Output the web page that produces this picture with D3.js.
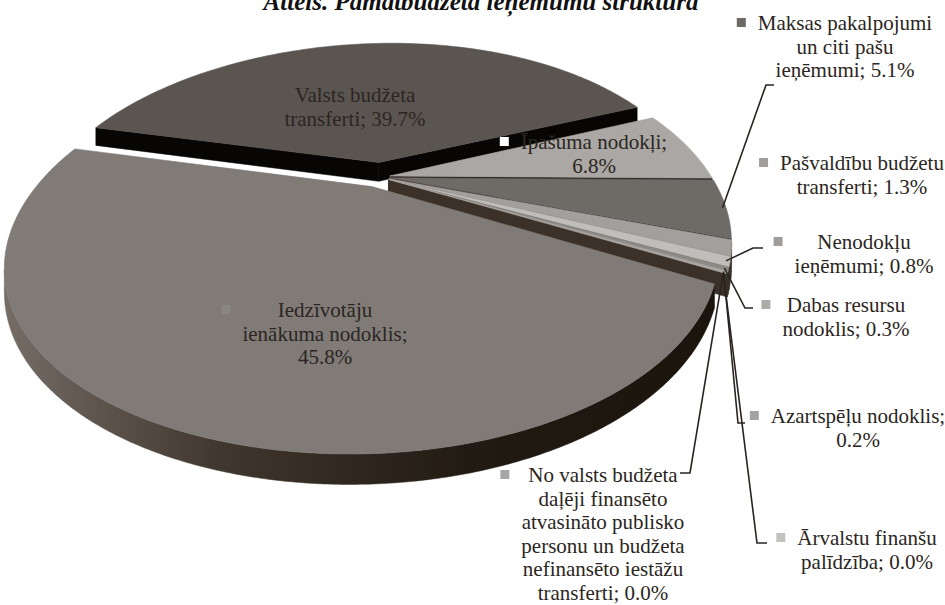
<!DOCTYPE html>
<html>
<head>
<meta charset="utf-8">
<script src="https://cdn.jsdelivr.net/npm/d3@7"></script>
<style>
  body { margin: 0; background: #fff; }
  svg { display: block; }
  .lbl { font-family: "Liberation Serif", "Times New Roman", serif; font-size: 21px; fill: #2b2622; }
  .title { font-family: "Liberation Serif", "Times New Roman", serif; font-size: 25px; font-weight: bold; font-style: italic; fill: #111; }
</style>
</head>
<body>
<div id="chart"></div>
<script>
// slices, clockwise from the upper-left edge of the top slice
const categories = [
  "Valsts budžeta transferti",
  "Īpašuma nodokļi",
  "Maksas pakalpojumi un citi pašu ieņēmumi",
  "Pašvaldību budžetu transferti",
  "Nenodokļu ieņēmumi",
  "Dabas resursu nodoklis",
  "Azartspēļu nodoklis",
  "Ārvalstu finanšu palīdzība",
  "No valsts budžeta daļēji finansēto atvasināto publisko personu un budžeta nefinansēto iestāžu transferti",
  "Iedzīvotāju ienākuma nodoklis"
];
const values = [39.7, 6.8, 5.1, 1.3, 0.8, 0.3, 0.2, 0.0, 0.0, 45.8];
// word index after which each label wraps
const breaks = [[2], [2], [2, 5], [2], [1], [2], [2], [2], [3, 5, 7, 10, 12], [1, 3]];
const title = "Attēls. Pamatbudžeta ieņēmumu struktūra";

// styles
const topColors = ["#5b5551", "#aaa7a4", "#6e6a66", "#a29f9c", "#c0bebb", "#8d8985", "#a9a6a3", "#c8c6c4", "#a3a09d", "#807b77"];
const wallColors = ["#070605", "#2c2520", "#2c2520", "#3b3128", "#3b3128", "#3b3128", "#3b3128", "#3b3128", "#3b3128", "url(#frontWall)"];
const keyColors = ["#5b5551", "#ffffff", "#6e6a66", "#a09d9a", "#a09d9a", "#aeaba8", "#a5a3a0", "#c4c2c0", "#a8a6a4", "#8a8682"];
const explode = [9, 3, 3, 3, 3, 3, 3, 3, 3, 6];

// label placement: centre x, first line centre y, leader elbow
const labelPos = [
  { x: 355, y: 95 },
  { x: 594, y: 142 },
  { x: 845, y: 23, elbow: [[766, 85], [774, 85]] },
  { x: 862, y: 163 },
  { x: 864, y: 242, elbow: [[753, 248], [763, 248]] },
  { x: 846, y: 305, elbow: [[745, 308], [753, 308]] },
  { x: 858, y: 416, elbow: [[738, 423], [745, 423]] },
  { x: 867, y: 538, elbow: [[757, 543], [767, 543]] },
  { x: 603, y: 475, elbow: [[690, 473], [680, 473]] },
  { x: 325, y: 310 }
];
const lineH = 23.5;

// 3d view: keystone perspective, a little shear and tilt
const view = { cx: 380, cy: 177, sx: 3.25, kx: 0.0036, sy: 1.68, ky: 0.0034, shear: 0.25, tilt: 0.05, depth: 19.5, r: 100, start: -78.4 };

function project(u, v, drop) {
  const wy = 1 + view.ky * v;
  return [
    view.cx + view.sx * u / (1 + view.kx * v) + view.shear * v,
    view.cy - view.sy * v / wy + view.tilt * u + drop * view.depth / wy
  ];
}

const svg = d3.select("#chart").append("svg")
  .attr("width", 945)
  .attr("height", 605);

const defs = svg.append("defs");
const grad = defs.append("linearGradient")
  .attr("id", "frontWall")
  .attr("gradientUnits", "userSpaceOnUse")
  .attr("x1", 0).attr("y1", 0).attr("x2", 730).attr("y2", 0);
grad.append("stop").attr("offset", "0%").attr("stop-color", "#766e67");
grad.append("stop").attr("offset", "30%").attr("stop-color", "#40372e");
grad.append("stop").attr("offset", "65%").attr("stop-color", "#211a12");
grad.append("stop").attr("offset", "100%").attr("stop-color", "#1a140d");

const a0 = view.start * Math.PI / 180;
const pie = d3.pie().sort(null).value(d => d).startAngle(a0).endAngle(a0 + 2 * Math.PI);
const slices = pie(values).map((a, i) => {
  const mid = (a.startAngle + a.endAngle) / 2;
  return {
    i: i,
    a0: a.startAngle,
    a1: a.endAngle,
    mid: mid,
    du: explode[i] * Math.sin(mid),
    dv: explode[i] * Math.cos(mid)
  };
});

function pt(s, ang, rho, drop) {
  return project(s.du + rho * Math.sin(ang), s.dv + rho * Math.cos(ang), drop);
}
function rimPts(s, from, to, drop) {
  const n = Math.max(1, Math.ceil(Math.abs(to - from) / (Math.PI / 180)));
  return d3.range(n + 1).map(k => pt(s, from + (to - from) * k / n, view.r, drop));
}
const poly = pts => "M" + pts.map(p => p[0].toFixed(2) + "," + p[1].toFixed(2)).join("L") + "Z";

// side walls
const walls = [];
slices.forEach(s => {
  if (s.a1 - s.a0 < 1e-6) return;
  const apexT = pt(s, 0, 0, 0), apexB = pt(s, 0, 0, 1);
  [[s.a0, 1], [s.a1, -1]].forEach(([ang, dir]) => {
    const rT = pt(s, ang, view.r, 0), rB = pt(s, ang, view.r, 1);
    const inner = pt(s, ang + dir * 0.01, view.r * 0.5, 0);
    const ex = rT[0] - apexT[0], ey = rT[1] - apexT[1];
    const cross = ex * (inner[1] - apexT[1]) - ey * (inner[0] - apexT[0]);
    if (Math.sign(cross) !== Math.sign(ex)) {
      walls.push({
        d: poly([apexT, rT, rB, apexB]),
        depth: s.dv + 0.5 * view.r * Math.cos(ang),
        fill: s.i === 9 ? "#2a221a" : wallColors[s.i]
      });
    }
  });
  // outer wall where the rim runs right to left on screen
  const n = Math.max(2, Math.ceil((s.a1 - s.a0) / (Math.PI / 360)));
  const angs = d3.range(n + 1).map(k => s.a0 + (s.a1 - s.a0) * k / n);
  let run = [];
  const flush = () => {
    if (run.length > 1) {
      const top = run.map(a => pt(s, a, view.r, 0));
      const bot = run.map(a => pt(s, a, view.r, 1)).reverse();
      const m = run[Math.floor(run.length / 2)];
      walls.push({ d: poly(top.concat(bot)), depth: s.dv + view.r * Math.cos(m), fill: wallColors[s.i] });
    }
    run = [];
  };
  angs.forEach(a => {
    const p1 = pt(s, a - 0.001, view.r, 0), p2 = pt(s, a + 0.001, view.r, 0);
    if (p2[0] - p1[0] < 0) run.push(a); else flush();
  });
  flush();
});

walls.sort((a, b) => b.depth - a.depth);
svg.append("g").attr("class", "walls")
  .selectAll("path")
  .data(walls)
  .join("path")
  .attr("d", d => d.d)
  .attr("fill", d => d.fill)
  .attr("stroke", d => d.fill)
  .attr("stroke-width", 0.5);

// top faces
svg.append("g").attr("class", "tops")
  .selectAll("path")
  .data(slices.filter(s => s.a1 - s.a0 > 1e-6))
  .join("path")
  .attr("d", s => poly([pt(s, 0, 0, 0)].concat(rimPts(s, s.a0, s.a1, 0))))
  .attr("fill", s => topColors[s.i])
  .attr("stroke", s => topColors[s.i])
  .attr("stroke-width", 0.6);

// leader lines
const leaders = svg.append("g").attr("class", "leaders");
slices.forEach(s => {
  const lp = labelPos[s.i];
  if (!lp.elbow) return;
  const start = pt(s, s.mid, view.r * 0.99, 0);
  leaders.append("path")
    .attr("d", d3.line()([start].concat(lp.elbow)))
    .attr("fill", "none")
    .attr("stroke", "#2a2420")
    .attr("stroke-width", 1.6);
});

// labels
const labels = svg.append("g").attr("class", "labels");
slices.forEach(s => {
  const lp = labelPos[s.i];
  const words = `${categories[s.i]}; ${values[s.i].toFixed(1)}%`.split(" ");
  const cuts = [0].concat(breaks[s.i], [words.length]);
  const lines = d3.range(cuts.length - 1).map(k => words.slice(cuts[k], cuts[k + 1]).join(" "));
  const g = labels.append("g");
  let left = Infinity;
  lines.forEach((t, k) => {
    const el = g.append("text")
      .attr("class", "lbl")
      .attr("x", lp.x)
      .attr("y", lp.y + k * lineH)
      .attr("dy", "0.35em")
      .attr("text-anchor", "middle")
      .text(t);
    left = Math.min(left, lp.x - el.node().getComputedTextLength() / 2);
  });
  g.insert("rect", "text")
    .attr("x", left - 21)
    .attr("y", lp.y - 5)
    .attr("width", 9)
    .attr("height", 9)
    .attr("fill", keyColors[s.i]);
});

svg.append("text")
  .attr("class", "title")
  .attr("x", 481)
  .attr("y", 10)
  .attr("text-anchor", "middle")
  .text(title);
</script>
</body>
</html>
